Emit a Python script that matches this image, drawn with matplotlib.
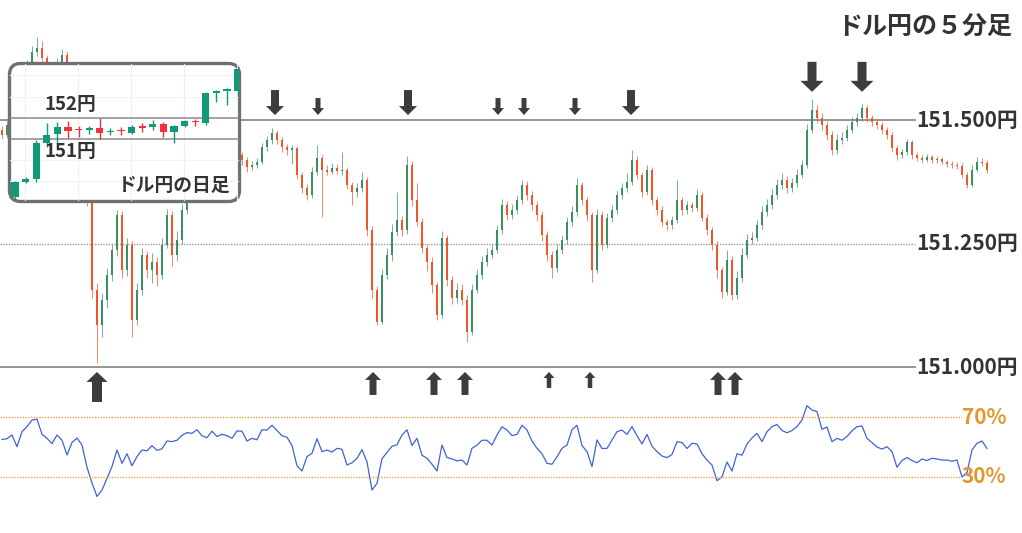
import matplotlib
matplotlib.use('Agg')
import matplotlib.pyplot as plt
from matplotlib.patches import FancyBboxPatch, Polygon
from matplotlib.transforms import blended_transform_factory
import numpy as np

plt.rcParams['font.family'] = ['Noto Sans CJK JP', 'DejaVu Sans']

# ---------------- 5-minute USD/JPY candles ----------------
first_open = 151.480
close = [151.470, 151.490, 151.520, 151.551, 151.581, 151.611, 151.638, 151.646, 151.625, 151.601,
         151.591, 151.617, 151.632, 151.591, 151.540, 151.480, 151.419, 151.338, 151.156, 151.085,
         151.136, 151.186, 151.237, 151.308, 151.196, 151.247, 151.095, 151.156, 151.227, 151.196,
         151.213, 151.186, 151.247, 151.308, 151.227, 151.257, 151.318, 151.348, 151.368, 151.389,
         151.379, 151.409, 151.429, 151.419, 151.439, 151.423, 151.439, 151.429, 151.419, 151.405,
         151.409, 151.415, 151.445, 151.460, 151.474, 151.460, 151.445, 151.439, 151.443, 151.389,
         151.362, 151.348, 151.395, 151.423, 151.399, 151.395, 151.403, 151.397, 151.399, 151.368,
         151.354, 151.362, 151.379, 151.277, 151.156, 151.091, 151.186, 151.227, 151.273, 151.298,
         151.277, 151.409, 151.338, 151.294, 151.241, 151.213, 151.166, 151.105, 151.261, 151.176,
         151.140, 151.156, 151.136, 151.071, 151.156, 151.186, 151.213, 151.227, 151.237, 151.277,
         151.328, 151.308, 151.318, 151.338, 151.368, 151.348, 151.328, 151.308, 151.267, 151.227,
         151.200, 151.237, 151.257, 151.294, 151.314, 151.368, 151.338, 151.308, 151.196, 151.308,
         151.247, 151.302, 151.318, 151.348, 151.362, 151.375, 151.419, 151.389, 151.354, 151.399,
         151.338, 151.318, 151.294, 151.287, 151.298, 151.338, 151.318, 151.328, 151.322, 151.348,
         151.302, 151.277, 151.247, 151.196, 151.152, 151.217, 151.146, 151.180, 151.227, 151.257,
         151.261, 151.287, 151.314, 151.328, 151.348, 151.368, 151.379, 151.362, 151.372, 151.389,
         151.409, 151.480, 151.520, 151.504, 151.490, 151.470, 151.439, 151.460, 151.464, 151.480,
         151.496, 151.504, 151.524, 151.504, 151.496, 151.490, 151.480, 151.470, 151.443, 151.429,
         151.435, 151.455, 151.429, 151.423, 151.419, 151.425, 151.419, 151.421, 151.415, 151.411,
         151.409, 151.407, 151.389, 151.368, 151.399, 151.415, 151.413, 151.399]
high = [151.488, 151.498, 151.530, 151.560, 151.590, 151.622, 151.650, 151.668, 151.660, 151.632,
        151.610, 151.626, 151.644, 151.640, 151.598, 151.548, 151.488, 151.425, 151.345, 151.170,
        151.150, 151.200, 151.250, 151.318, 151.315, 151.262, 151.255, 151.170, 151.240, 151.235,
        151.230, 151.222, 151.262, 151.320, 151.315, 151.275, 151.330, 151.360, 151.378, 151.398,
        151.400, 151.418, 151.440, 151.436, 151.450, 151.446, 151.448, 151.445, 151.436, 151.426,
        151.418, 151.424, 151.454, 151.468, 151.484, 151.480, 151.466, 151.452, 151.450, 151.448,
        151.395, 151.370, 151.405, 151.449, 151.430, 151.408, 151.412, 151.410, 151.435, 151.405,
        151.375, 151.372, 151.395, 151.385, 151.285, 151.165, 151.198, 151.240, 151.290, 151.354,
        151.305, 151.427, 151.418, 151.372, 151.302, 151.250, 151.222, 151.172, 151.275, 151.268,
        151.185, 151.170, 151.168, 151.145, 151.168, 151.198, 151.225, 151.240, 151.248, 151.288,
        151.340, 151.336, 151.330, 151.348, 151.379, 151.376, 151.356, 151.336, 151.315, 151.275,
        151.235, 151.248, 151.268, 151.304, 151.325, 151.383, 151.375, 151.345, 151.314, 151.320,
        151.315, 151.312, 151.328, 151.358, 151.372, 151.392, 151.439, 151.428, 151.395, 151.409,
        151.404, 151.345, 151.325, 151.300, 151.306, 151.379, 151.345, 151.336, 151.334, 151.360,
        151.355, 151.310, 151.284, 151.255, 151.202, 151.237, 151.225, 151.195, 151.240, 151.270,
        151.274, 151.298, 151.325, 151.340, 151.360, 151.380, 151.392, 151.386, 151.382, 151.400,
        151.420, 151.492, 151.542, 151.530, 151.515, 151.498, 151.478, 151.472, 151.476, 151.490,
        151.506, 151.515, 151.532, 151.530, 151.510, 151.502, 151.496, 151.486, 151.476, 151.450,
        151.442, 151.462, 151.460, 151.436, 151.430, 151.432, 151.430, 151.428, 151.426, 151.420,
        151.418, 151.415, 151.412, 151.395, 151.408, 151.426, 151.424, 151.420]
low = [151.462, 151.464, 151.484, 151.512, 151.545, 151.575, 151.604, 151.630, 151.615, 151.590,
       151.580, 151.585, 151.610, 151.582, 151.530, 151.470, 151.405, 151.325, 151.140, 151.008,
       151.060, 151.120, 151.175, 151.225, 151.180, 151.185, 151.061, 151.085, 151.145, 151.180,
       151.170, 151.165, 151.178, 151.240, 151.205, 151.215, 151.250, 151.310, 151.338, 151.360,
       151.370, 151.372, 151.400, 151.410, 151.412, 151.415, 151.418, 151.420, 151.408, 151.395,
       151.398, 151.402, 151.410, 151.438, 151.452, 151.452, 151.436, 151.430, 151.410, 151.380,
       151.352, 151.338, 151.342, 151.388, 151.304, 151.388, 151.390, 151.390, 151.388, 151.360,
       151.328, 151.345, 151.355, 151.265, 151.140, 151.085, 151.088, 151.178, 151.215, 151.265,
       151.265, 151.270, 151.325, 151.285, 151.230, 151.195, 151.150, 151.095, 151.100, 151.165,
       151.128, 151.130, 151.125, 151.051, 151.065, 151.150, 151.178, 151.205, 151.220, 151.230,
       151.270, 151.298, 151.300, 151.310, 151.330, 151.338, 151.318, 151.296, 151.255, 151.215,
       151.180, 151.192, 151.228, 151.250, 151.286, 151.306, 151.328, 151.296, 151.172, 151.190,
       151.236, 151.240, 151.294, 151.310, 151.340, 151.355, 151.368, 151.380, 151.345, 151.348,
       151.328, 151.308, 151.285, 151.278, 151.280, 151.292, 151.308, 151.310, 151.314, 151.316,
       151.295, 151.268, 151.236, 151.180, 151.140, 151.145, 151.136, 151.138, 151.172, 151.220,
       151.248, 151.255, 151.280, 151.306, 151.320, 151.340, 151.360, 151.352, 151.355, 151.365,
       151.382, 151.402, 151.474, 151.494, 151.480, 151.460, 151.429, 151.432, 151.452, 151.458,
       151.474, 151.488, 151.498, 151.496, 151.488, 151.482, 151.472, 151.462, 151.435, 151.420,
       151.424, 151.430, 151.422, 151.416, 151.412, 151.414, 151.413, 151.413, 151.410, 151.405,
       151.402, 151.400, 151.382, 151.362, 151.364, 151.395, 151.406, 151.392]

# ---------------- RSI (%) ----------------
rsi = [55.0, 55.5, 58.0, 50.2, 60.2, 63.6, 68.0, 68.5, 58.5, 55.8,
       52.2, 58.0, 54.5, 44.7, 53.0, 56.0, 51.3, 36.5, 26.0, 17.0,
       21.3, 29.1, 37.0, 48.0, 39.1, 45.5, 37.5, 43.6, 48.0, 47.5,
       50.9, 47.8, 48.8, 54.0, 53.6, 54.5, 57.8, 59.6, 59.1, 61.5,
       57.5, 56.2, 60.5, 57.0, 58.5, 57.5, 55.8, 60.7, 60.5, 54.0,
       55.8, 54.8, 61.5, 61.3, 64.5, 61.0, 57.5, 56.5, 51.0, 37.5,
       34.0, 43.6, 45.8, 55.5, 46.9, 48.0, 46.6, 49.1, 48.5, 38.0,
       39.5, 42.4, 48.2, 40.0, 21.3, 25.8, 42.2, 46.4, 50.5, 51.5,
       58.0, 61.5, 51.0, 55.8, 44.5, 42.5, 38.5, 34.0, 51.3, 43.0,
       42.0, 40.8, 41.3, 38.0, 49.1, 51.3, 54.5, 54.5, 51.3, 58.0,
       63.5, 61.3, 57.6, 58.4, 64.5, 61.3, 54.0, 49.1, 45.5, 39.1,
       38.5, 43.5, 49.1, 51.3, 61.5, 64.5, 51.0, 46.9, 37.0, 54.7,
       49.0, 49.1, 54.7, 60.2, 61.3, 58.4, 63.6, 57.5, 52.0, 58.4,
       50.5, 46.9, 44.0, 42.9, 45.0, 53.5, 53.0, 49.0, 52.5, 52.0,
       45.5, 41.3, 38.0, 27.5, 30.2, 40.0, 34.0, 45.5, 44.5, 52.0,
       56.0, 59.1, 53.6, 60.2, 63.6, 65.0, 61.0, 59.5, 61.0, 63.6,
       68.0, 77.5, 74.7, 73.6, 61.8, 63.3, 53.5, 55.8, 54.5, 57.0,
       60.8, 63.5, 64.0, 55.8, 52.9, 50.0, 48.6, 50.2, 46.9, 36.5,
       41.0, 43.0, 41.0, 39.5, 42.0, 41.0, 42.5, 42.0, 41.3, 41.3,
       40.5, 41.3, 30.0, 33.0, 48.0, 52.5, 54.0, 49.0]

price_levels = [151.000, 151.250, 151.500]
price_labels = ['151.000円', '151.250円', '151.500円']
rsi_levels = [30, 70]
rsi_labels = ['30%', '70%']

# arrows (candle index, tip price, size)
down_arrow_idx = [54.6, 63.2, 81.2, 99.2, 104.4, 114.6, 125.8, 162.0, 172.0]
down_arrow_tip = [151.510, 151.510, 151.510, 151.510, 151.510, 151.510, 151.510, 151.557, 151.557]
down_arrow_size = ['M', 'S', 'M', 'S', 'S', 'S', 'M', 'L', 'L']
up_arrow_idx = [19.0, 74.2, 86.4, 92.6, 109.4, 117.6, 143.2, 146.6]
up_arrow_tip = [150.990] * 8
up_arrow_size = ['L', 'M', 'M', 'M', 'S', 'S', 'M', 'M']

# ---------------- daily candles (inset) ----------------
d_open = [148.26, 148.97, 149.11, 150.80, 151.23, 151.56, 151.47, 151.42, 151.51, 151.33, 151.42,
          151.28, 151.61, 151.56, 151.70, 151.32, 151.61, 151.84, 151.75, 153.16, 153.26, 153.26]
d_close = [148.97, 149.11, 150.80, 151.18, 151.56, 151.37, 151.40, 151.51, 151.28, 151.38, 151.37,
           151.56, 151.51, 151.70, 151.32, 151.61, 151.84, 151.79, 153.16, 153.26, 153.35, 154.30]
d_high = [149.00, 149.20, 150.95, 151.75, 151.80, 151.84, 151.61, 151.61, 151.99, 151.51, 151.56,
          151.65, 151.75, 151.89, 151.80, 151.65, 151.89, 151.94, 153.21, 153.31, 153.40, 154.35]
d_low = [148.02, 148.92, 148.96, 150.62, 150.81, 151.04, 151.09, 151.23, 150.99, 151.18, 151.18,
         151.23, 151.32, 151.42, 151.09, 150.80, 151.56, 151.61, 151.65, 152.74, 152.60, 152.98]
d_levels = [151, 152]

# ---------------- figure ----------------
W, H = 1022, 533
fig = plt.figure(figsize=(W / 100, H / 100), dpi=100)
fig.patch.set_facecolor('white')


def rect(x0, y0, x1, y1):
    return [x0 / W, 1 - y1 / H, (x1 - x0) / W, (y1 - y0) / H]


UP, DOWN = '#3a9160', '#f0562a'
TXT = '#333333'

ax = fig.add_axes(rect(0, 0, W, 385), zorder=0)
ax.set_xlim(-0.4, 204.0)
ax.set_ylim(150.9636, 151.7429)
ax.axis('off')

n = len(close)
idx = np.arange(n)
c = np.array(close)
o = np.array([first_open] + close[:-1])
cols = np.where(c >= o, UP, DOWN)
ax.vlines(idx, low, high, colors=cols, lw=0.7, alpha=0.7, zorder=2)
ax.bar(idx, np.maximum(np.abs(c - o), 0.0025), bottom=np.minimum(o, c), width=0.55,
       color=cols, linewidth=0, zorder=3)

lab_tr = blended_transform_factory(ax.transAxes, ax.transData)
for lv, lb in zip(price_levels, price_labels):
    if lv == 151.25:
        ax.axhline(lv, xmin=0, xmax=915 / W, color='#9a9a9a', lw=1.0, ls=(0, (1, 1)), zorder=1)
    else:
        ax.axhline(lv, xmin=0, xmax=915 / W, color='#8c8c8c', lw=1.3, zorder=1)
    ax.text(916 / W, lv, lb, transform=lab_tr, ha='left', va='center', fontsize=15,
            fontweight='bold', color=TXT)

# RSI panel
ax_r = fig.add_axes(rect(0, 395, W, 520), zorder=0)
ax_r.set_xlim(-0.4, 204.0)
ax_r.set_ylim(1.33, 84.67)
ax_r.axis('off')
ax_r.plot(idx, rsi, color='#3f63d4', lw=0.9)
rtr = blended_transform_factory(ax_r.transAxes, ax_r.transData)
for lv, lb in zip(rsi_levels, rsi_labels):
    ax_r.axhline(lv, xmin=0, xmax=962 / W, color='#eaa54a', lw=1.0, ls=(0, (1, 1)))
    ax_r.text(962 / W, lv, lb, transform=rtr, ha='left', va='center', fontsize=15,
              fontweight='bold', color='#e3952e')

# inset background + border
ov_back = fig.add_axes([0, 0, 1, 1], zorder=1)
ov_back.set_xlim(0, W)
ov_back.set_ylim(H, 0)
ov_back.axis('off')
ov_back.patch.set_alpha(0)
ov_back.add_patch(FancyBboxPatch((9.5, 63.5), 230, 138, boxstyle='round,pad=0,rounding_size=11',
                                 fc='white', ec='#707070', lw=2.4))

ax_in = fig.add_axes(rect(10, 64, 239, 201), zorder=2)
ax_in.patch.set_alpha(0)
ax_in.axis('off')
x0_in = -0.66 + (10 - 8) / 10.6
x1_in = -0.66 + (239 - 8) / 10.6
ax_in.set_xlim(x0_in, x1_in)
ax_in.set_ylim(152 - (201 - 117.7) / 21.2, 152 + (117.7 - 64) / 21.2)
for gx in [1, 6, 11, 16, 21]:
    ax_in.axvline(gx - 0.06, color='#efefef', lw=0.8, zorder=0)
for gy in [149, 150, 153, 154]:
    ax_in.axhline(gy, color='#f2f2f2', lw=0.8, zorder=0)
for lv in d_levels:
    ax_in.axhline(lv, color='#8a8a8a', lw=1.1, zorder=1)
di = np.arange(len(d_open))
dopen = np.array(d_open)
dclose = np.array(d_close)
dcols = np.where(dclose >= dopen, '#129a78', '#f0323f')
ax_in.vlines(di, d_low, d_high, colors=dcols, lw=1.0, zorder=2)
ax_in.bar(di, np.maximum(np.abs(dclose - dopen), 0.05), bottom=np.minimum(dopen, dclose),
          width=0.68, color=dcols, linewidth=0, zorder=3)
ax_in.text((44 - 10) / 229, 1 - (105 - 64) / 137, '152円', transform=ax_in.transAxes,
           ha='left', va='center', fontsize=13.5, fontweight='bold', color=TXT, zorder=4)
ax_in.text((44 - 10) / 229, 1 - (151.5 - 64) / 137, '151円', transform=ax_in.transAxes,
           ha='left', va='center', fontsize=13.5, fontweight='bold', color=TXT, zorder=4)
ax_in.text((230 - 10) / 229, 1 - (185 - 64) / 137, 'ドル円の日足', transform=ax_in.transAxes,
           ha='right', va='center', fontsize=13.5, fontweight='bold', color=TXT, zorder=4)

# arrows overlay
ov = fig.add_axes([0, 0, 1, 1], zorder=3)
ov.set_xlim(0, W)
ov.set_ylim(H, 0)
ov.axis('off')
ov.patch.set_alpha(0)

down_geom = {'L': (30, 9, 23, 11), 'M': (25, 8, 18, 9), 'S': (17, 5, 12, 7)}
up_geom = {'L': (30, 10, 21, 10), 'M': (23, 7, 16, 8), 'S': (16, 4.5, 11, 6)}
ARW = '#3c3c3c'


def to_px(xv, yv):
    dx, dy = ax.transData.transform((xv, yv))
    return dx, H - dy


for i, tp, s in zip(down_arrow_idx, down_arrow_tip, down_arrow_size):
    x, ty = to_px(i, tp)
    h, sw, hw, hh = down_geom[s]
    pts = [(x - sw / 2, ty - h), (x + sw / 2, ty - h), (x + sw / 2, ty - hh), (x + hw / 2, ty - hh),
           (x, ty), (x - hw / 2, ty - hh), (x - sw / 2, ty - hh)]
    ov.add_patch(Polygon(pts, closed=True, fc=ARW, ec='none'))

for i, tp, s in zip(up_arrow_idx, up_arrow_tip, up_arrow_size):
    x, ty = to_px(i, tp)
    h, sw, hw, hh = up_geom[s]
    pts = [(x - sw / 2, ty + h), (x + sw / 2, ty + h), (x + sw / 2, ty + hh), (x + hw / 2, ty + hh),
           (x, ty), (x - hw / 2, ty + hh), (x - sw / 2, ty + hh)]
    ov.add_patch(Polygon(pts, closed=True, fc=ARW, ec='none'))

fig.text(1012 / W, 1 - 28 / H, 'ドル円の５分足', ha='right', va='center', fontsize=18,
         fontweight='bold', color=TXT)

fig.savefig('out.png', dpi=100, facecolor='white')
